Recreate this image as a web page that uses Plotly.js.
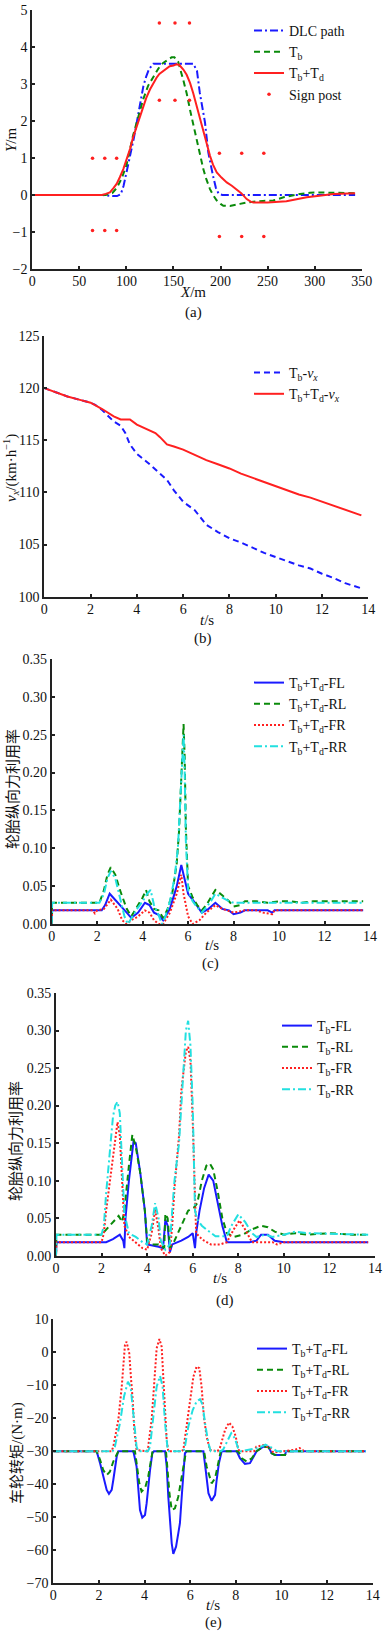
<!DOCTYPE html>
<html><head><meta charset="utf-8">
<script src="https://cdn.plot.ly/plotly-3.0.1.min.js"></script>
<style>html,body{margin:0;padding:0;background:#fff}#chart{width:388px;height:1638px}</style>
</head><body><div id="chart"></div>
<script>
// ---------- (a) path ----------
const a_dlc_x = [0, 75, 85, 90, 94, 97, 100, 104, 108, 111, 114, 118, 121, 124, 128.6, 150, 171, 175, 178, 183.5, 187, 192, 195, 198, 202, 250, 300, 343];
const a_dlc_y = [0, 0, -0.03, -0.03, 0.02, 0.25, 0.6, 1.06, 1.55, 1.96, 2.4, 2.94, 3.2, 3.4, 3.55, 3.55, 3.55, 3.35, 2.76, 1.96, 1.15, 0.52, 0.2, 0.03, 0.0, 0.0, 0.0, 0.0];
const a_tb_x = [0, 78, 85, 90, 95, 100, 107, 113, 118, 123, 128.6, 134, 139, 144, 148, 151, 155, 160.5, 164, 167.6, 171, 174.7, 178, 181.7, 185, 188.8, 192, 196, 200, 203, 210, 215, 220.7, 228, 235, 245, 256, 262, 267, 275, 284.5, 295, 305.8, 320, 343];
const a_tb_y = [0, 0, 0.05, 0.2, 0.45, 0.8, 1.6, 2.15, 2.6, 2.95, 3.2, 3.42, 3.57, 3.66, 3.72, 3.72, 3.6, 3.1, 2.75, 2.3, 1.9, 1.5, 1.1, 0.7, 0.42, 0.16, 0.0, -0.15, -0.24, -0.29, -0.3, -0.28, -0.24, -0.2, -0.18, -0.16, -0.15, -0.1, -0.06, -0.02, 0.03, 0.06, 0.07, 0.06, 0.05];
const a_td_x = [0, 74, 78, 82.5, 86, 89.6, 93, 96.7, 100, 103.8, 107, 111, 114, 118, 121, 125, 128, 132, 135, 139, 143, 146, 150, 153, 156, 160.5, 164, 167.6, 171, 174.7, 178, 181.7, 185, 188.8, 192, 196, 201, 206.6, 212, 217, 222, 227.8, 232, 235, 250, 270, 280, 291.6, 305, 320, 343];
const a_td_y = [0, 0, 0.03, 0.07, 0.18, 0.3, 0.48, 0.7, 0.95, 1.24, 1.55, 1.87, 2.12, 2.4, 2.62, 2.85, 3.0, 3.17, 3.27, 3.35, 3.42, 3.48, 3.5, 3.53, 3.52, 3.39, 3.25, 3.03, 2.75, 2.4, 2.05, 1.69, 1.37, 1.06, 0.82, 0.61, 0.47, 0.34, 0.25, 0.16, 0.05, -0.11, -0.18, -0.2, -0.2, -0.17, -0.12, -0.06, -0.02, 0.03, 0.05];
const a_sign_x = [64, 77, 89.6, 64, 77, 89.6, 135, 151.6, 167, 135, 151.6, 167, 198.8, 222.5, 246, 198.8, 222.5, 246];
const a_sign_y = [0.99, 0.99, 0.99, -0.96, -0.96, -0.96, 4.65, 4.65, 4.65, 2.56, 2.56, 2.56, 1.13, 1.13, 1.13, -1.12, -1.12, -1.12];

// ---------- (b) speed ----------
const b_tb_t = [0, 0.5, 1, 1.5, 2, 2.2, 2.5, 3, 3.3, 3.5, 3.7, 4, 4.5, 5, 5.3, 5.6, 6, 6.5, 7, 7.5, 8, 8.5, 9, 9.5, 10, 10.5, 11, 11.5, 12, 12.5, 13, 13.7];
const b_tb_v = [120, 119.6, 119.2, 118.9, 118.6, 118.4, 117.9, 116.8, 116.4, 115.7, 114.6, 113.7, 112.8, 111.8, 111.2, 110.2, 109.1, 108.3, 106.9, 106.2, 105.6, 105.2, 104.7, 104.2, 103.8, 103.4, 103.0, 102.7, 102.2, 101.8, 101.3, 100.8];
const b_td_t = [0, 0.5, 1, 1.5, 2, 2.5, 3, 3.3, 3.7, 4, 4.5, 4.8, 5, 5.3, 5.6, 6, 6.5, 7, 7.5, 8, 8.5, 9, 9.5, 10, 10.5, 11, 11.5, 12, 12.5, 13, 13.7];
const b_td_v = [120, 119.6, 119.2, 118.9, 118.6, 118.0, 117.3, 117.0, 117.0, 116.5, 116.0, 115.7, 115.3, 114.6, 114.4, 114.1, 113.6, 113.1, 112.7, 112.3, 111.8, 111.4, 111.0, 110.6, 110.2, 109.8, 109.5, 109.1, 108.7, 108.3, 107.8];

// ---------- (c) Tb+Td utilisation ----------
const c_fl_t = [0, 0.02, 2.2, 2.35, 2.55, 2.8, 3.0, 3.3, 3.5, 3.8, 4.1, 4.3, 4.5, 4.7, 4.9, 5.2, 5.5, 5.7, 5.8, 6.0, 6.3, 6.6, 6.9, 7.2, 7.5, 7.8, 8.0, 8.3, 8.5, 9.5, 9.7, 9.8, 13.7];
const c_fl_v = [0.0, 0.018, 0.018, 0.025, 0.04, 0.032, 0.025, 0.015, 0.008, 0.015, 0.028, 0.025, 0.015, 0.012, 0.005, 0.02, 0.05, 0.078, 0.065, 0.04, 0.028, 0.015, 0.02, 0.028, 0.02, 0.018, 0.013, 0.015, 0.018, 0.018, 0.015, 0.018, 0.018];
const c_rl_t = [0, 0.02, 2.1, 2.3, 2.45, 2.6, 2.8, 3.0, 3.3, 3.5, 3.8, 4.0, 4.15, 4.3, 4.5, 4.7, 4.9, 5.1, 5.3, 5.5, 5.6, 5.7, 5.8, 5.85, 5.9, 6.0, 6.2, 6.4, 6.6, 6.8, 7.0, 7.2, 7.5, 7.8, 8.0, 8.3, 8.5, 9.0, 9.5, 10.0, 10.5, 11.0, 11.5, 12.0, 13.7];
const c_rl_v = [0.0, 0.028, 0.028, 0.045, 0.065, 0.075, 0.065, 0.045, 0.02, 0.01, 0.025, 0.035, 0.045, 0.03, 0.02, 0.018, 0.008, 0.02, 0.04, 0.08, 0.122, 0.2, 0.264, 0.22, 0.128, 0.05, 0.035, 0.025, 0.018, 0.025, 0.035, 0.045, 0.038, 0.03, 0.023, 0.025, 0.03, 0.03, 0.028, 0.03, 0.03, 0.028, 0.03, 0.03, 0.03];
const c_fr_t = [0, 0.02, 1.8, 1.9, 2.0, 2.3, 2.6, 2.9, 3.1, 3.3, 3.5, 3.8, 4.1, 4.3, 4.5, 4.7, 4.9, 5.2, 5.5, 5.7, 5.8, 6.0, 6.2, 6.5, 6.8, 7.2, 7.5, 7.8, 8.0, 8.5, 9.0, 9.3, 9.7, 9.8, 13.7];
const c_fr_v = [0.0, 0.018, 0.018, 0.014, 0.018, 0.02, 0.032, 0.02, 0.005, 0.0, 0.005, 0.01, 0.018, 0.015, 0.005, 0.0, 0.0, 0.015, 0.04, 0.065, 0.04, 0.01, 0.0, 0.005, 0.015, 0.025, 0.02, 0.017, 0.015, 0.018, 0.018, 0.015, 0.013, 0.018, 0.018];
const c_rr_t = [0, 0.02, 2.1, 2.3, 2.45, 2.6, 2.8, 3.0, 3.2, 3.35, 3.5, 3.8, 4.0, 4.2, 4.35, 4.5, 4.7, 4.85, 5.0, 5.2, 5.4, 5.55, 5.65, 5.75, 5.8, 5.85, 5.9, 6.0, 6.2, 6.4, 6.6, 6.8, 7.0, 7.2, 7.5, 7.8, 8.0, 8.3, 8.5, 13.7];
const c_rr_v = [0.0, 0.028, 0.028, 0.04, 0.06, 0.07, 0.06, 0.035, 0.01, 0.0, 0.008, 0.022, 0.03, 0.04, 0.045, 0.025, 0.012, 0.0, 0.01, 0.03, 0.06, 0.1, 0.16, 0.23, 0.25, 0.2, 0.11, 0.045, 0.03, 0.022, 0.015, 0.022, 0.03, 0.04, 0.035, 0.03, 0.028, 0.028, 0.028, 0.028];

// ---------- (d) Tb utilisation ----------
const d_fl_t = [0, 0.02, 2.2, 2.5, 2.8, 2.95, 3.0, 3.05, 3.2, 3.4, 3.5, 3.7, 3.9, 4.0, 4.5, 4.7, 4.8, 4.9, 5.0, 5.1, 5.5, 5.8, 6.0, 6.1, 6.15, 6.3, 6.5, 6.7, 6.9, 7.1, 7.3, 7.5, 8.0, 8.5, 8.8, 9.0, 9.3, 9.6, 10.0, 13.7];
const d_fl_v = [0.0, 0.018, 0.018, 0.022, 0.028, 0.02, 0.01, 0.05, 0.1, 0.152, 0.15, 0.11, 0.06, 0.015, 0.012, 0.01, 0.048, 0.04, 0.005, 0.015, 0.02, 0.025, 0.03, 0.01, 0.03, 0.06, 0.09, 0.108, 0.1, 0.07, 0.04, 0.018, 0.018, 0.018, 0.02, 0.028, 0.028, 0.02, 0.018, 0.018];
const d_rl_t = [0, 0.02, 2.0, 2.2, 2.5, 2.75, 2.9, 3.0, 3.2, 3.35, 3.5, 3.7, 3.9, 4.0, 4.2, 4.5, 4.75, 4.8, 4.9, 5.0, 5.2, 5.5, 5.8, 6.05, 6.2, 6.4, 6.6, 6.75, 6.9, 7.1, 7.3, 7.5, 7.8, 8.2, 8.6, 9.0, 9.3, 9.6, 10.0, 10.5, 11.0, 12.0, 13.0, 13.7];
const d_rl_v = [0.0, 0.028, 0.028, 0.035, 0.045, 0.053, 0.045, 0.06, 0.12, 0.161, 0.145, 0.11, 0.06, 0.02, 0.015, 0.015, 0.01, 0.056, 0.05, 0.01, 0.02, 0.04, 0.06, 0.064, 0.07, 0.1, 0.12, 0.123, 0.115, 0.085, 0.05, 0.03, 0.025, 0.028, 0.035, 0.04, 0.038, 0.032, 0.028, 0.03, 0.028, 0.03, 0.028, 0.028];
const d_fr_t = [0, 0.02, 2.0, 2.1, 2.2, 2.4, 2.6, 2.7, 2.8, 2.9, 3.0, 3.2, 3.5, 3.8, 4.0, 4.2, 4.35, 4.5, 4.6, 4.8, 5.0, 5.1, 5.2, 5.4, 5.5, 5.6, 5.7, 5.8, 5.9, 6.0, 6.1, 6.15, 6.3, 6.5, 6.8, 7.2, 7.5, 7.8, 8.05, 8.3, 8.6, 9.0, 9.5, 9.7, 10.0, 13.7];
const d_fr_v = [0.0, 0.018, 0.018, 0.03, 0.06, 0.11, 0.16, 0.178, 0.16, 0.1, 0.04, 0.025, 0.018, 0.01, 0.008, 0.03, 0.062, 0.035, 0.01, 0.0, 0.005, 0.04, 0.09, 0.16, 0.22, 0.25, 0.272, 0.278, 0.26, 0.18, 0.08, 0.03, 0.025, 0.02, 0.015, 0.015, 0.018, 0.035, 0.047, 0.035, 0.018, 0.018, 0.018, 0.015, 0.018, 0.018];
const d_rr_t = [0, 0.02, 2.0, 2.1, 2.2, 2.35, 2.5, 2.6, 2.7, 2.8, 2.9, 3.0, 3.2, 3.5, 3.8, 4.0, 4.2, 4.35, 4.5, 4.6, 4.8, 5.0, 5.1, 5.2, 5.4, 5.5, 5.6, 5.7, 5.8, 5.9, 6.0, 6.05, 6.1, 6.2, 6.4, 6.6, 6.8, 7.0, 7.5, 7.7, 8.0, 8.3, 8.6, 8.8, 9.2, 9.5, 10.0, 10.5, 11.0, 13.7];
const d_rr_v = [0.0, 0.028, 0.028, 0.04, 0.083, 0.13, 0.185, 0.2, 0.205, 0.19, 0.12, 0.056, 0.03, 0.025, 0.018, 0.015, 0.04, 0.07, 0.05, 0.02, 0.008, 0.015, 0.06, 0.1, 0.15, 0.2, 0.25, 0.3, 0.313, 0.28, 0.2, 0.12, 0.06, 0.048, 0.04, 0.035, 0.03, 0.026, 0.026, 0.04, 0.055, 0.045, 0.03, 0.025, 0.028, 0.025, 0.028, 0.032, 0.03, 0.028];

// ---------- (e) wheel torque ----------
const e_fl_t = [0, 1.9, 2.05, 2.19, 2.34, 2.44, 2.56, 2.63, 2.7, 2.78, 2.85, 3.51, 3.65, 3.73, 3.8, 3.9, 4.02, 4.09, 4.16, 4.24, 4.34, 4.41, 4.9, 4.97, 5.04, 5.11, 5.19, 5.26, 5.38, 5.48, 5.55, 5.63, 5.7, 5.77, 5.85, 6.58, 6.68, 6.8, 6.94, 7.09, 7.16, 7.26, 7.38, 8.04, 8.18, 8.4, 8.62, 8.77, 8.91, 9.2, 9.43, 9.57, 9.72, 10.16, 10.2, 13.7];
const e_fl_v = [-30, -30, -33.6, -37.7, -41.7, -42.9, -41.7, -38.7, -34.6, -31.6, -30, -30, -34.6, -41.7, -47.8, -50.1, -49.3, -45.8, -40.7, -35.7, -30.6, -30, -30, -34.6, -43.7, -51.8, -57.9, -61.1, -58.9, -54.8, -51.8, -43.7, -35.7, -30.6, -30, -30, -35.7, -42.7, -45, -43.2, -38.7, -33.6, -30, -30, -32.1, -33.8, -33.6, -31.6, -30, -28.6, -28.6, -30.6, -31.1, -31.1, -30, -30];
const e_rl_t = [0, 1.9, 2.05, 2.19, 2.34, 2.48, 2.63, 2.78, 2.85, 3.58, 3.68, 3.77, 3.87, 4.02, 4.16, 4.27, 4.35, 4.94, 5.01, 5.09, 5.19, 5.33, 5.48, 5.63, 5.73, 5.82, 6.61, 6.72, 6.94, 7.09, 7.23, 7.34, 8.11, 8.26, 8.48, 8.7, 8.91, 9.2, 9.43, 9.57, 9.72, 10.16, 10.23, 13.7];
const e_rl_v = [-30, -30, -32.6, -35.7, -37.2, -36.2, -33.1, -30.6, -30, -30, -35.7, -39.7, -42.2, -41.2, -37.7, -32.6, -30, -30, -35.7, -42.7, -47.8, -47.3, -43.7, -37.7, -32.6, -30, -30, -34.6, -39.7, -38.2, -33.6, -30, -30, -32.1, -33.1, -32.1, -30, -28.6, -28.8, -30.6, -31.1, -31.1, -30, -30];
const e_fr_t = [0, 2.55, 2.63, 2.85, 3.0, 3.14, 3.21, 3.33, 3.4, 3.48, 3.55, 3.65, 4.1, 4.16, 4.31, 4.41, 4.53, 4.65, 4.75, 4.82, 4.9, 4.97, 5.04, 5.6, 5.7, 5.85, 6.0, 6.14, 6.28, 6.4, 6.5, 6.6, 6.72, 6.87, 7.2, 7.3, 7.53, 7.7, 7.85, 8.0, 8.1, 8.2, 8.8, 8.9, 9.2, 9.5, 9.65, 10.6, 10.8, 11.0, 13.7];
const e_fr_v = [-30, -30, -28.6, -20.5, -10.4, 2.2, 3.2, -0.3, -7.4, -14.4, -23.5, -29.6, -30, -28.6, -20.5, -9.4, 1.2, 4, 1.7, -7.4, -17.5, -26.6, -30, -30, -29.6, -21.5, -14.4, -7.4, -4.3, -4.8, -10.4, -19.5, -25.6, -29.6, -30, -29, -23.5, -21.3, -22.5, -25.6, -29.4, -30, -30, -28.6, -28.1, -29, -30.4, -29.5, -29, -30, -30];
const e_rr_t = [0, 2.6, 2.7, 2.92, 3.1, 3.27, 3.39, 3.48, 3.57, 3.65, 3.73, 4.15, 4.24, 4.38, 4.53, 4.68, 4.79, 4.9, 5.0, 5.07, 5.7, 5.77, 5.92, 6.11, 6.28, 6.43, 6.55, 6.65, 6.8, 6.9, 7.35, 7.45, 7.67, 7.8, 7.95, 8.1, 8.2, 9.0, 9.3, 9.6, 9.8, 13.7];
const e_rr_v = [-30, -30, -28.6, -21.5, -13.4, -8.9, -10.4, -17.5, -23.5, -28.6, -30, -30, -28.6, -19.5, -10.4, -7.2, -10.4, -21.5, -28.6, -30, -30, -28.6, -22.5, -17.5, -14.9, -14.2, -16, -21.5, -27.6, -30, -30, -29.4, -26, -24.5, -26, -29, -30, -29, -28, -29, -30, -30];

// ---------- names / labels ----------
const a_names = ['DLC path', 'T<sub>b</sub>', 'T<sub>b</sub>+T<sub>d</sub>', 'Sign post'];
const b_names = ['T<sub>b</sub>-<i>v<sub>x</sub></i>', 'T<sub>b</sub>+T<sub>d</sub>-<i>v<sub>x</sub></i>'];
const c_names = ['T<sub>b</sub>+T<sub>d</sub>-FL', 'T<sub>b</sub>+T<sub>d</sub>-RL', 'T<sub>b</sub>+T<sub>d</sub>-FR', 'T<sub>b</sub>+T<sub>d</sub>-RR'];
const d_names = ['T<sub>b</sub>-FL', 'T<sub>b</sub>-RL', 'T<sub>b</sub>-FR', 'T<sub>b</sub>-RR'];
const e_names = c_names;

const W = 388, H = 1638;
const px = v => v / W, py = v => 1 - v / H;
const SERIF = 'Liberation Serif, Times New Roman, serif';
const TITLEF = 'Liberation Serif, Noto Sans CJK SC, serif';
const BLUE = '#1a1aff', GREEN = '#0a8a0a', RED = '#ff2020', CYAN = '#22e0e0';
const DASH = '6px,4px', DOT = '2px,2px', DASHDOT = '8px,3px,2px,3px';

function ln(x, y, xa, ya, name, color, dash, leg) {
  return {type: 'scatter', mode: 'lines', x: x, y: y, xaxis: xa, yaxis: ya, name: name,
    legend: leg, line: {color: color, width: 2, dash: dash}};
}
const data = [
  ln(a_dlc_x, a_dlc_y, 'x', 'y', a_names[0], BLUE, DASHDOT, 'legend'),
  ln(a_tb_x, a_tb_y, 'x', 'y', a_names[1], GREEN, DASH, 'legend'),
  ln(a_td_x, a_td_y, 'x', 'y', a_names[2], RED, 'solid', 'legend'),
  {type: 'scatter', mode: 'markers', x: a_sign_x, y: a_sign_y, xaxis: 'x', yaxis: 'y', name: a_names[3],
    legend: 'legend', marker: {color: RED, size: 3.5}},
  ln(b_tb_t, b_tb_v, 'x2', 'y2', b_names[0], BLUE, DASH, 'legend2'),
  ln(b_td_t, b_td_v, 'x2', 'y2', b_names[1], RED, 'solid', 'legend2'),
  ln(c_fl_t, c_fl_v, 'x3', 'y3', c_names[0], BLUE, 'solid', 'legend3'),
  ln(c_rl_t, c_rl_v, 'x3', 'y3', c_names[1], GREEN, DASH, 'legend3'),
  ln(c_fr_t, c_fr_v, 'x3', 'y3', c_names[2], RED, DOT, 'legend3'),
  ln(c_rr_t, c_rr_v, 'x3', 'y3', c_names[3], CYAN, DASHDOT, 'legend3'),
  ln(d_fl_t, d_fl_v, 'x4', 'y4', d_names[0], BLUE, 'solid', 'legend4'),
  ln(d_rl_t, d_rl_v, 'x4', 'y4', d_names[1], GREEN, DASH, 'legend4'),
  ln(d_fr_t, d_fr_v, 'x4', 'y4', d_names[2], RED, DOT, 'legend4'),
  ln(d_rr_t, d_rr_v, 'x4', 'y4', d_names[3], CYAN, DASHDOT, 'legend4'),
  ln(e_fl_t, e_fl_v, 'x5', 'y5', e_names[0], BLUE, 'solid', 'legend5'),
  ln(e_rl_t, e_rl_v, 'x5', 'y5', e_names[1], GREEN, DASH, 'legend5'),
  ln(e_fr_t, e_fr_v, 'x5', 'y5', e_names[2], RED, DOT, 'legend5'),
  ln(e_rr_t, e_rr_v, 'x5', 'y5', e_names[3], CYAN, DASHDOT, 'legend5')
];

function ax(domain, range, dtick, anchor, fmt, isX) {
  const o = {domain: domain, range: range, dtick: dtick, tick0: range[0], anchor: anchor,
    showline: true, linecolor: '#222', linewidth: 2, ticks: 'inside', ticklen: 3, tickwidth: 2,
    tickcolor: '#222', showgrid: false, zeroline: false, fixedrange: true,
    tickfont: {family: SERIF, size: 14, color: '#111'}};
  if (isX) o.ticklabelstandoff = -2;
  if (fmt) o.tickformat = fmt;
  return o;
}
function leg(x, y) {
  return {x: px(x), y: py(y), xanchor: 'left', yanchor: 'top', bgcolor: 'rgba(0,0,0,0)',
    font: {family: SERIF, size: 14, color: '#111'}, tracegroupgap: 0};
}
function ann(x, y, text, angle) {
  return {xref: 'paper', yref: 'paper', x: px(x), y: py(y), text: text, showarrow: false,
    xanchor: 'center', yanchor: 'middle', textangle: angle || 0,
    font: {family: TITLEF, size: 15, color: '#111'}};
}

const layout = {
  width: W, height: H, margin: {l: 0, r: 0, t: 0, b: 0},
  paper_bgcolor: '#fff', plot_bgcolor: '#fff', showlegend: true,
  xaxis: ax([px(32.3), px(361.7)], [0, 350], 50, 'y', null, true),
  yaxis: ax([py(269), py(10)], [-2, 5], 1, 'x'),
  xaxis2: ax([px(44.3), px(368.3)], [0, 14], 2, 'y2', null, true),
  yaxis2: ax([py(596.7), py(336)], [100, 125], 5, 'x2'),
  xaxis3: ax([px(51.7), px(370)], [0, 14], 2, 'y3', null, true),
  yaxis3: ax([py(924), py(659)], [0, 0.35], 0.05, 'x3', '.2f'),
  xaxis4: ax([px(56), px(375)], [0, 14], 2, 'y4', null, true),
  yaxis4: ax([py(1255.7), py(993)], [0, 0.35], 0.05, 'x4', '.2f'),
  xaxis5: ax([px(53.3), px(372.7)], [0, 14], 2, 'y5', null, true),
  yaxis5: ax([py(1583.3), py(1319.3)], [-70, 10], 10, 'x5'),
  legend: leg(249, 15),
  legend2: leg(249, 357),
  legend3: leg(249, 667),
  legend4: leg(277, 1010),
  legend5: leg(252, 1333),
  annotations: [
    ann(193, 292, '<i>X</i>/m'), ann(11, 140, '<i>Y</i>/m', -90), ann(193, 312, '(a)'),
    ann(207, 620, '<i>t</i>/s'), ann(11, 468, '<i>v<sub>x</sub></i>/(km·h<sup>−1</sup>)', -90), ann(203, 639, '(b)'),
    ann(212, 945, '<i>t</i>/s'), ann(13, 789, '轮胎纵向力利用率', -90), ann(210, 963, '(c)'),
    ann(220, 1278, '<i>t</i>/s'), ann(16, 1141, '轮胎纵向力利用率', -90), ann(225, 1300, '(d)'),
    ann(213, 1605, '<i>t</i>/s'), ann(17, 1453, '车轮转矩/(N·m)', -90), ann(213, 1622, '(e)')
  ]
};
Plotly.newPlot('chart', data, layout, {displayModeBar: false, staticPlot: true});
</script></body></html>
